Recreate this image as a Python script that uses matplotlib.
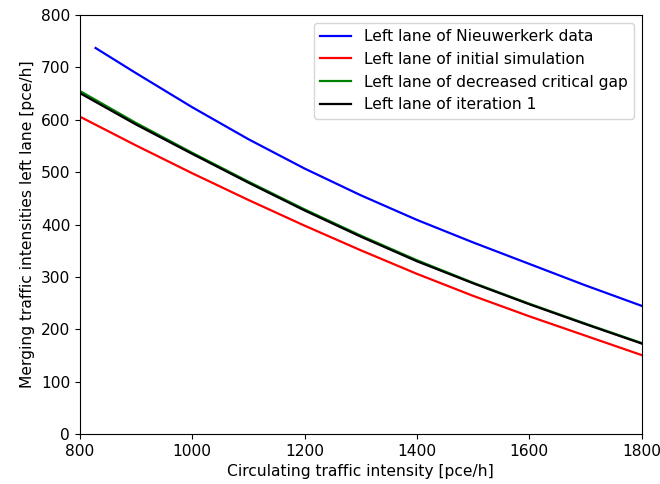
import matplotlib
matplotlib.use("Agg")
import matplotlib.pyplot as plt

x_blue = [828, 900, 1000, 1100, 1200, 1300, 1400, 1500, 1600, 1700, 1800]
y_blue = [737, 689, 624, 563, 507, 456, 409, 366, 325, 284, 245]

x_sim = [800, 900, 1000, 1100, 1200, 1300, 1400, 1500, 1600, 1700, 1800]
y_red = [606, 551, 498, 447, 398, 351, 306, 264, 225, 188, 151]
y_green = [655, 594, 537, 482, 429, 379, 332, 289, 249, 211, 174]
y_black = [651, 591, 535, 480, 427, 377, 330, 288, 248, 210, 173]

labels = ["Left lane of Nieuwerkerk data", "Left lane of initial simulation",
          "Left lane of decreased critical gap", "Left lane of iteration 1"]

plt.rcParams["font.size"] = 11.2

fig = plt.figure(figsize=(6.6, 4.84), dpi=100)
ax = fig.add_axes([0.121, 0.103, 0.851, 0.866])
ax.plot(x_blue, y_blue, color="blue", lw=1.6, label=labels[0])
ax.plot(x_sim, y_red, color="red", lw=1.6, label=labels[1])
ax.plot(x_sim, y_green, color="green", lw=1.6, label=labels[2])
ax.plot(x_sim, y_black, color="black", lw=1.6, label=labels[3])
ax.set_xlim(800, 1800)
ax.set_ylim(0, 800)
ax.set_xlabel("Circulating traffic intensity [pce/h]")
ax.set_ylabel("Merging traffic intensities left lane [pce/h]")
ax.legend(loc="upper right")
fig.savefig("out.png", dpi=100)
